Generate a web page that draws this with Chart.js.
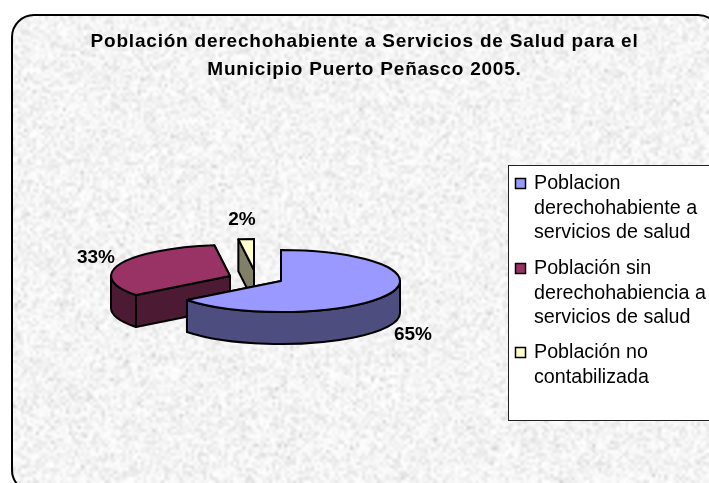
<!DOCTYPE html>
<html><head><meta charset="utf-8">
<style>html,body{margin:0;padding:0;background:#fff}canvas{display:block}</style>
<script src="https://cdn.jsdelivr.net/npm/chart.js@4"></script>
</head><body><canvas id="c" width="709" height="483"></canvas>
<script>
const titleLines = ['Población derechohabiente a Servicios de Salud para el', 'Municipio Puerto Peñasco 2005.'];
const categories = ['Poblacion derechohabiente a servicios de salud', 'Población sin derechohabiencia a servicios de salud', 'Población no contabilizada'];
const legendLines = [['Poblacion', 'derechohabiente a', 'servicios de salud'], ['Población sin', 'derechohabiencia a', 'servicios de salud'], ['Población no', 'contabilizada']];
const values = [64.5, 33.4, 2.1];
const topColors = ['#9999FF', '#993366', '#FFFFCC'];
const sideColors = ['#4D4D80', '#4D1A33', '#808066'];
const explodeX = [0, -51, -27];
const explodeY = [0, -5, -11];
const labelX = [413, 96, 242];
const labelY = [335, 258, 220];
const drawOrder = [1, 2, 0];

const FONT = '"Liberation Sans", Arial, sans-serif';
const pieShiftX = 281 - 364.5, tilt = 31 / 119, depth = 32;

function roundRectPath(ctx, x, y, w, h, r) {
  ctx.beginPath(); ctx.roundRect(x, y, w, h, r);
}
function makeTexture(w, h) {
  const scale = 3, cw = Math.ceil(w / scale), ch = Math.ceil(h / scale);
  const off = document.createElement('canvas'); off.width = cw; off.height = ch;
  const o = off.getContext('2d'), img = o.createImageData(cw, ch);
  let s = 12345;
  const next = () => (s = (s * 1664525 + 1013904223) >>> 0) / 4294967296;
  for (let i = 0; i < img.data.length; i += 4) {
    const n = next(), m = next();
    let g = 222 + 33 * Math.max(n, m * 0.95);
    if (next() < 0.03) g -= 18;
    img.data[i] = img.data[i + 1] = img.data[i + 2] = g; img.data[i + 3] = 255;
  }
  o.putImageData(img, 0, 0);
  return off;
}
const pie3d = {
  id: 'pie3d',
  beforeDraw(chart) {
    const ctx = chart.ctx;
    ctx.save();
    ctx.fillStyle = '#fff'; ctx.fillRect(0, 0, chart.width, chart.height);
    roundRectPath(ctx, 12, 15, 708, 477, 22); ctx.clip();
    ctx.imageSmoothingEnabled = true; ctx.imageSmoothingQuality = 'high';
    ctx.drawImage(makeTexture(chart.width, chart.height), 0, 0, chart.width, chart.height);
    ctx.restore();
    ctx.save();
    roundRectPath(ctx, 12, 15, 708, 477, 22);
    ctx.lineWidth = 2; ctx.strokeStyle = '#000'; ctx.stroke();
    ctx.restore();
    ctx.letterSpacing = '0.8px';
  },
  beforeDatasetsDraw(chart) {
    const ctx = chart.ctx; ctx.letterSpacing = '0px';
    const arcs = chart.getDatasetMeta(0).data;
    ctx.save(); ctx.lineWidth = 2; ctx.strokeStyle = '#000'; ctx.lineJoin = 'round';
    drawOrder.forEach(i => {
      const a = arcs[i], cx = a.x + pieShiftX + explodeX[i], cy = a.y + explodeY[i];
      const rx = a.outerRadius, ry = rx * tilt, a0 = a.startAngle, a1 = a.endAngle;
      const px = t => cx + rx * Math.cos(t), py = t => cy + ry * Math.sin(t);
      ctx.fillStyle = sideColors[i];
      [a0, a1].sort((p, q) => Math.sin(p) - Math.sin(q)).forEach(t => {
        ctx.beginPath(); ctx.moveTo(cx, cy); ctx.lineTo(px(t), py(t));
        ctx.lineTo(px(t), py(t) + depth); ctx.lineTo(cx, cy + depth); ctx.closePath();
        ctx.fill(); ctx.stroke();
      });
      const r0 = Math.max(a0, 0), r1 = Math.min(a1, Math.PI);
      if (r1 > r0) {
        ctx.beginPath(); ctx.ellipse(cx, cy, rx, ry, 0, r0, r1);
        ctx.ellipse(cx, cy + depth, rx, ry, 0, r1, r0, true); ctx.closePath();
        ctx.fill(); ctx.stroke();
      }
      ctx.fillStyle = topColors[i];
      ctx.beginPath(); ctx.moveTo(cx, cy); ctx.ellipse(cx, cy, rx, ry, 0, a0, a1); ctx.closePath();
      ctx.fill(); ctx.stroke();
    });
    ctx.restore();
    return false;
  },
  afterDraw(chart) {
    const ctx = chart.ctx;
    ctx.save();
    ctx.fillStyle = '#000'; ctx.font = 'bold 19px ' + FONT;
    ctx.textAlign = 'center'; ctx.textBaseline = 'middle';
    values.forEach((v, i) => ctx.fillText(Math.round(v) + '%', labelX[i], labelY[i]));
    // legend
    ctx.fillStyle = '#fff'; ctx.strokeStyle = '#222'; ctx.lineWidth = 1;
    ctx.fillRect(508.5, 165.5, 210, 255); ctx.strokeRect(508.5, 165.5, 210, 255);
    ctx.font = '19.7px ' + FONT; ctx.textAlign = 'left'; ctx.textBaseline = 'alphabetic';
    const baselines = [189, 274, 358];
    legendLines.forEach((lines, i) => {
      ctx.fillStyle = topColors[i]; ctx.strokeStyle = '#000'; ctx.lineWidth = 1.5;
      ctx.fillRect(515.5, baselines[i] - 10.5, 10, 10); ctx.strokeRect(515.5, baselines[i] - 10.5, 10, 10);
      ctx.fillStyle = '#000';
      lines.forEach((t, j) => ctx.fillText(t, 534, baselines[i] + j * 24.5));
    });
    ctx.restore();
  }
};
new Chart(document.getElementById('c'), {
  type: 'pie',
  data: { labels: categories, datasets: [{ data: values, backgroundColor: topColors, borderWidth: 0, hoverOffset: 0, offset: 0 }] },
  options: {
    responsive: false, animation: false, events: [],
    layout: { padding: { left: 20, right: 0, top: 0, bottom: 83 } },
    plugins: {
      legend: { display: false }, tooltip: { enabled: false },
      title: { display: true, text: titleLines, color: '#000', align: 'center',
        font: { family: FONT, size: 19, weight: 'bold', lineHeight: '28px' },
        padding: { top: 28, bottom: 78 } }
    }
  },
  plugins: [pie3d]
});
</script></body></html>
